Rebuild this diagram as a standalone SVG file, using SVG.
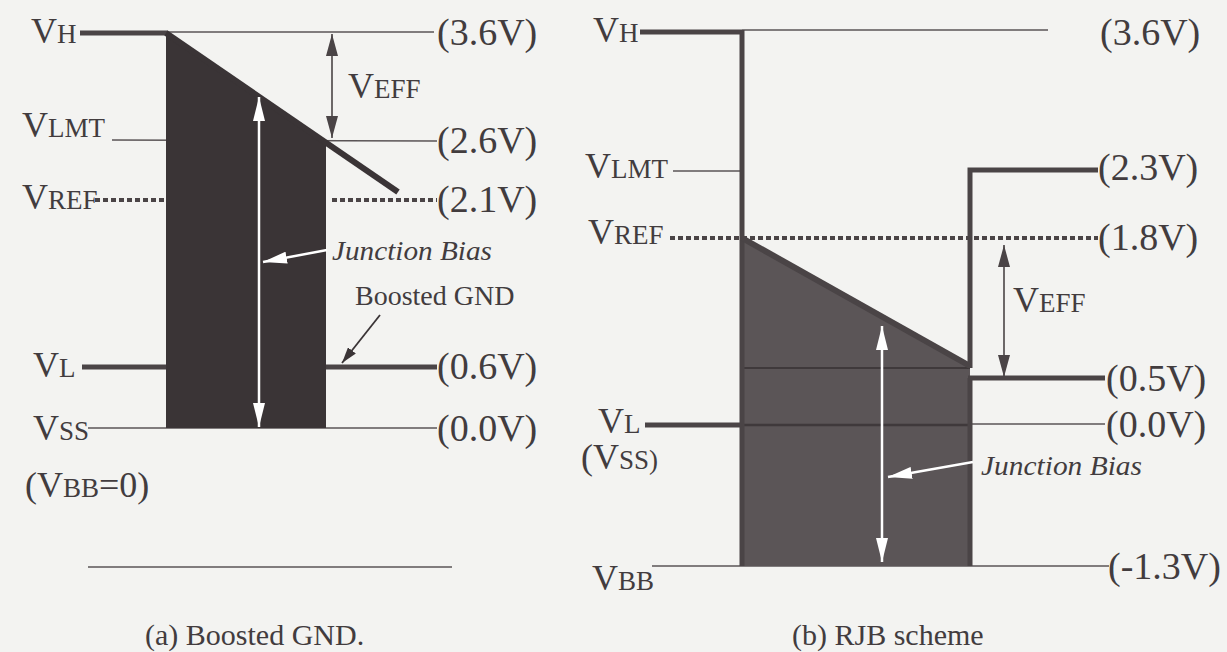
<svg xmlns="http://www.w3.org/2000/svg" width="1227" height="652" viewBox="0 0 1227 652" font-family="'Liberation Serif', 'Times New Roman', serif">
<defs>
<style>
text,tspan{font-family:"Liberation Serif","Times New Roman",serif;fill:#423c3e}
.big{font-size:36px}
.sub{font-size:27px}
.val{font-size:38px}
.note{font-size:28px;font-family:"Liberation Serif","Times New Roman",serif}
.it{font-size:28px;font-style:italic;font-family:"Liberation Serif","Times New Roman",serif}
.cap{font-size:30px}
.thick{stroke:#4a4446;stroke-width:5;fill:none}
.thin{stroke:#5a5456;stroke-width:1.6;fill:none}
.dot{stroke:#4a4446;stroke-width:4;stroke-dasharray:5 3;fill:none}
.dark{stroke:#4a4446;stroke-width:1.6;fill:none}
.white{stroke:#ffffff;stroke-width:2.5;fill:none}
</style>
<marker id="ad" markerUnits="userSpaceOnUse" viewBox="0 0 22 12" markerWidth="22" markerHeight="12" refX="22" refY="6" orient="auto-start-reverse">
<path d="M0,0 L22,6 L0,12 Z" fill="#4a4446"/>
</marker>
<marker id="as" markerUnits="userSpaceOnUse" viewBox="0 0 16 10" markerWidth="16" markerHeight="10" refX="16" refY="5" orient="auto">
<path d="M0,0 L16,5 L0,10 Z" fill="#3a3436"/>
</marker>
<marker id="aw" markerUnits="userSpaceOnUse" viewBox="0 0 24 12" markerWidth="24" markerHeight="12" refX="24" refY="6" orient="auto-start-reverse">
<path d="M0,0 L24,6 L0,12 Z" fill="#ffffff"/>
</marker>
</defs>
<rect width="1227" height="652" fill="#f3f3f1"/>

<!-- Panel (a) -->
<g id="panel-a">
<g id="a-levels">
<line class="thin" x1="165" y1="32" x2="434" y2="32"/>
<line class="thin" x1="112" y1="140" x2="437" y2="141"/>
<line class="dot" x1="95" y1="200" x2="166" y2="200"/>
<line class="dot" x1="332" y1="200" x2="437" y2="200"/>
<line class="thin" x1="88" y1="428" x2="437" y2="428"/>
<line class="thick" x1="80" y1="33" x2="168" y2="33"/>
<line class="thick" x1="82" y1="367" x2="168" y2="367"/>
<line class="thick" x1="326" y1="367" x2="437" y2="367"/>
</g>
<g id="a-block">
<polygon points="166,33 326,143 326,428 166,428" fill="#3a3436"/>
<line x1="166" y1="33" x2="398" y2="192" stroke="#3a3436" stroke-width="6"/>
</g>
<g id="a-labels">
<text x="31" y="43"><tspan class="big">V</tspan><tspan class="sub">H</tspan></text>
<text x="22" y="137"><tspan class="big">V</tspan><tspan class="sub">LMT</tspan></text>
<text x="22" y="209"><tspan class="big">V</tspan><tspan class="sub">REF</tspan></text>
<text x="33" y="377"><tspan class="big">V</tspan><tspan class="sub">L</tspan></text>
<text x="33" y="440"><tspan class="big">V</tspan><tspan class="sub">SS</tspan></text>
<text x="25" y="497"><tspan class="big">(V</tspan><tspan class="sub">BB</tspan><tspan class="big">=0)</tspan></text>
<text class="val" x="437" y="45">(3.6V)</text>
<text class="val" x="437" y="153">(2.6V)</text>
<text class="val" x="437" y="212">(2.1V)</text>
<text class="val" x="437" y="379">(0.6V)</text>
<text class="val" x="437" y="441">(0.0V)</text>
<text x="348" y="98"><tspan class="big">V</tspan><tspan class="sub">EFF</tspan></text>
<text class="it" x="332" y="260" textLength="160" lengthAdjust="spacingAndGlyphs">Junction Bias</text>
<text class="note" x="355" y="305">Boosted GND</text>
</g>
<line id="a-rule" class="thin" x1="88" y1="567" x2="452" y2="567"/>
<text id="a-caption" class="cap" x="145" y="645">(a) Boosted GND.</text>
</g>

<!-- Panel (b) -->
<g id="panel-b">
<g id="b-levels">
<line class="thin" x1="742" y1="30" x2="1048" y2="30"/>
<line class="thin" x1="673" y1="171" x2="742" y2="171"/>
<line class="thin" x1="970" y1="424" x2="1105" y2="424"/>
<line class="thin" x1="652" y1="566" x2="1109" y2="566"/>
<line class="thick" x1="640" y1="32" x2="742" y2="32"/>
<line class="thick" x1="645" y1="425" x2="743" y2="425"/>
</g>
<g id="b-block">
<polygon points="743,238 970,365 970,566 743,566" fill="#5b5557"/>
<line x1="743" y1="368" x2="970" y2="368" stroke="#3f393b" stroke-width="2"/>
<line x1="743" y1="425" x2="970" y2="425" stroke="#3f393b" stroke-width="2.5"/>
<line class="thick" x1="970" y1="378" x2="970" y2="566"/>
<line class="thick" x1="742" y1="30" x2="742" y2="566"/>
<line x1="742" y1="238" x2="970" y2="366" stroke="#4a4446" stroke-width="6"/>
<polyline class="thick" points="970,368 970,170 1098,170"/>
<line class="thick" x1="968" y1="378" x2="1105" y2="378"/>
<line class="dot" x1="670" y1="238" x2="1098" y2="238"/>
</g>
<g id="b-labels">
<text x="593" y="42"><tspan class="big">V</tspan><tspan class="sub">H</tspan></text>
<text x="585" y="178"><tspan class="big">V</tspan><tspan class="sub">LMT</tspan></text>
<text x="588" y="244"><tspan class="big">V</tspan><tspan class="sub">REF</tspan></text>
<text x="598" y="433"><tspan class="big">V</tspan><tspan class="sub">L</tspan></text>
<text x="581" y="469"><tspan class="big">(V</tspan><tspan class="sub">SS)</tspan></text>
<text x="592" y="590"><tspan class="big">V</tspan><tspan class="sub">BB</tspan></text>
<text class="val" x="1100" y="45">(3.6V)</text>
<text class="val" x="1098" y="180">(2.3V)</text>
<text class="val" x="1098" y="250">(1.8V)</text>
<text class="val" x="1106" y="391">(0.5V)</text>
<text class="val" x="1106" y="437">(0.0V)</text>
<text class="val" x="1108" y="579">(-1.3V)</text>
<text x="1013" y="312"><tspan class="big">V</tspan><tspan class="sub">EFF</tspan></text>
<text class="it" x="981" y="475" textLength="161" lengthAdjust="spacingAndGlyphs">Junction Bias</text>
</g>
<text id="b-caption" class="cap" x="792" y="645">(b)  RJB scheme</text>
</g>

<!-- Connectors -->
<g id="connectors">
<line class="dark" x1="332" y1="34" x2="332" y2="138" marker-start="url(#ad)" marker-end="url(#ad)"/>
<line class="white" x1="259" y1="97" x2="259" y2="427" marker-start="url(#aw)" marker-end="url(#aw)"/>
<line class="white" x1="327" y1="250" x2="263" y2="262" marker-end="url(#aw)"/>
<line stroke="#3a3436" stroke-width="1.8" x1="380" y1="315" x2="342" y2="363" marker-end="url(#as)"/>
<line class="dark" x1="1004" y1="245" x2="1004" y2="377" marker-start="url(#ad)" marker-end="url(#ad)"/>
<line class="white" x1="882" y1="326" x2="882" y2="562" marker-start="url(#aw)" marker-end="url(#aw)"/>
<line class="white" x1="973" y1="462" x2="888" y2="477" marker-end="url(#aw)"/>
</g>
</svg>
